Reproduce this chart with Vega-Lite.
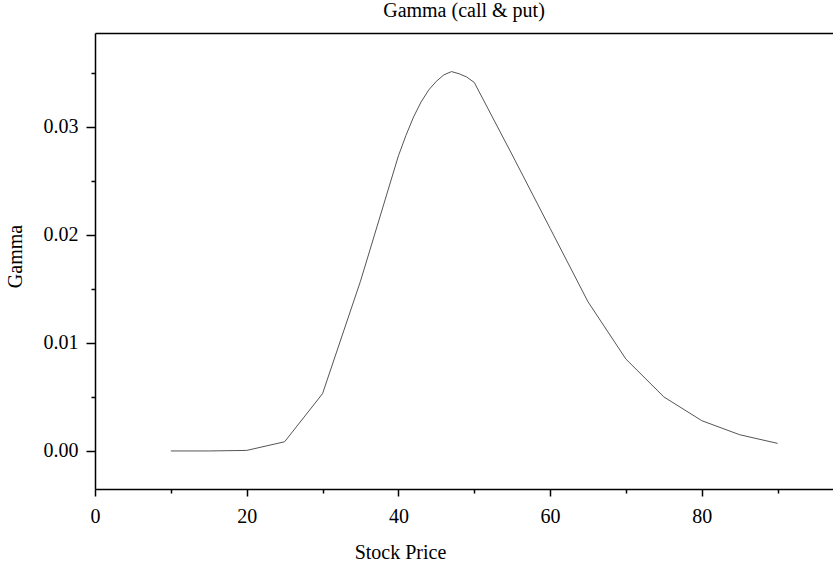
{
  "$schema": "https://vega.github.io/schema/vega-lite/v6.json",
  "width": 738,
  "height": 456,
  "autosize": {"type": "none"},
  "padding": {"left": 95, "top": 33, "right": 0, "bottom": 73},
  "background": "white",
  "title": {"text": "Gamma (call & put)", "font": "Liberation Serif", "fontSize": 20, "fontWeight": "normal", "color": "black", "anchor": "middle", "offset": 12},
  "config": {
    "view": {"stroke": null},
    "axis": {"labelFont": "Liberation Serif", "titleFont": "Liberation Serif", "labelFontSize": 20, "titleFontSize": 20, "titleFontWeight": "normal", "labelColor": "black", "titleColor": "black", "domainColor": "black", "tickColor": "black", "domainWidth": 1.5, "tickWidth": 1.5, "grid": false, "labelFlush": false}
  },
  "data": {"values": [
    {"price": 10, "gamma": 0.0},
    {"price": 15, "gamma": 0.0},
    {"price": 20, "gamma": 0.00005},
    {"price": 25, "gamma": 0.00085},
    {"price": 30, "gamma": 0.0053},
    {"price": 35, "gamma": 0.0157},
    {"price": 40, "gamma": 0.0273},
    {"price": 41, "gamma": 0.0292},
    {"price": 42, "gamma": 0.0309},
    {"price": 43, "gamma": 0.0323},
    {"price": 44, "gamma": 0.0334},
    {"price": 45, "gamma": 0.0342},
    {"price": 46, "gamma": 0.0348},
    {"price": 47, "gamma": 0.0351},
    {"price": 48, "gamma": 0.0349},
    {"price": 49, "gamma": 0.0346},
    {"price": 50, "gamma": 0.0341},
    {"price": 55, "gamma": 0.0274},
    {"price": 60, "gamma": 0.0206},
    {"price": 65, "gamma": 0.0138},
    {"price": 70, "gamma": 0.0085},
    {"price": 75, "gamma": 0.0050},
    {"price": 80, "gamma": 0.0028},
    {"price": 85, "gamma": 0.0015},
    {"price": 90, "gamma": 0.0007}
  ]},
  "resolve": {"axis": {"x": "independent", "y": "independent"}},
  "layer": [
    {
      "mark": {"type": "line", "stroke": "#555555", "strokeWidth": 1},
      "encoding": {
        "x": {"field": "price", "type": "quantitative", "scale": {"domain": [0, 97.3], "nice": false, "zero": false},
          "axis": {"orient": "bottom", "values": [0, 20, 40, 60, 80], "tickSize": 7, "labelPadding": 10, "title": "Stock Price", "titleX": 305, "titleY": 69, "titleBaseline": "alphabetic", "titleAnchor": null, "titleAlign": "center"}},
        "y": {"field": "gamma", "type": "quantitative", "scale": {"domain": [-0.00352, 0.03867], "nice": false, "zero": false},
          "axis": {"orient": "left", "values": [0, 0.01, 0.02, 0.03], "format": ".2f", "tickSize": 9, "labelPadding": 8, "title": "Gamma", "titleX": -80, "titleY": 223, "titleAngle": 270, "titleBaseline": "middle", "titleAlign": "center"}}
      }
    },
    {
      "mark": {"type": "line", "opacity": 0},
      "encoding": {
        "x": {"field": "price", "type": "quantitative", "scale": {"domain": [0, 97.3], "nice": false, "zero": false},
          "axis": {"orient": "bottom", "values": [10, 30, 50, 70, 90], "tickSize": 4, "labels": false, "domain": false, "title": null}},
        "y": {"field": "gamma", "type": "quantitative", "scale": {"domain": [-0.00352, 0.03867], "nice": false, "zero": false},
          "axis": {"orient": "left", "values": [0.005, 0.015, 0.025, 0.035], "tickSize": 4, "labels": false, "domain": false, "title": null}}
      }
    },
    {
      "mark": {"type": "line", "opacity": 0},
      "encoding": {
        "x": {"field": "price", "type": "quantitative", "scale": {"domain": [0, 97.3], "nice": false, "zero": false},
          "axis": {"orient": "top", "ticks": false, "labels": false, "domain": true, "title": null}}
      }
    }
  ]
}
